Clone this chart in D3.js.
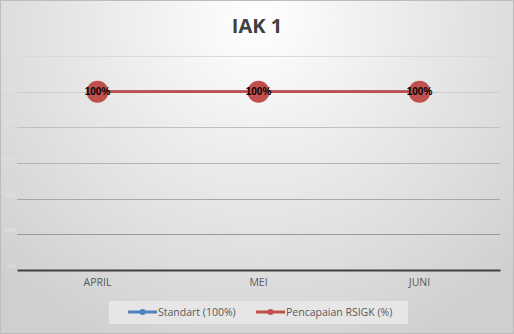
<!DOCTYPE html>
<html>
<head>
  <title>IAK 1</title>
  <script src="https://cdnjs.cloudflare.com/ajax/libs/d3/7.8.5/d3.min.js"></script>
  <style>
    html, body { margin: 0; padding: 0; background: #fff; }
    svg { display: block; }
  </style>
</head>
<body>
<svg width="514" height="334" class="svg-chart"></svg>
<script type="text/javascript">
  // data
  var months = ['APRIL', 'MEI', 'JUNI']
  var standart = [100, 100, 100]
  var pencapaian = [100, 100, 100]
  var yTicks = [0, 20, 40, 60, 80, 100, 120]
  var seriesNames = ['Standart (100%)', 'Pencapaian RSIGK (%)']
  var seriesColors = ['#4f81bd', '#c0504d']

  var svg = d3.select('.svg-chart')
  var width = +svg.attr('width')
  var height = +svg.attr('height')

  // background
  var defs = svg.append('defs')
  var grad = defs.append('radialGradient')
    .attr('id', 'bg')
    .attr('gradientUnits', 'userSpaceOnUse')
    .attr('cx', 257).attr('cy', 20).attr('r', 360)
  grad.append('stop').attr('offset', '0%').attr('stop-color', '#ffffff')
  grad.append('stop').attr('offset', '100%').attr('stop-color', '#cfcfcf')

  svg.append('rect')
    .attr('x', 0.5).attr('y', 0.5)
    .attr('width', width - 1).attr('height', height - 1)
    .attr('fill', 'url(#bg)')
    .attr('stroke', '#bcbcbc')

  var margin = {left: 17, right: 14, top: 56, bottom: 64}
  var x = d3.scaleBand()
    .domain(months)
    .range([margin.left, width - margin.right])
  var y = d3.scaleLinear()
    .domain([0, 120])
    .range([height - margin.bottom, margin.top])

  // gridlines
  var gridColor = d3.scaleLinear().domain([120, 20]).range(['#dadada', '#9a9a9a'])
  svg.append('g').selectAll('line')
    .data(yTicks.filter(function(d){ return d > 0 }))
    .enter()
    .append('line')
    .attr('x1', margin.left).attr('x2', width - margin.right)
    .attr('y1', function(d){ return Math.round(y(d)) + 0.5 })
    .attr('y2', function(d){ return Math.round(y(d)) + 0.5 })
    .attr('stroke', function(d){ return gridColor(d) })

  // faint value labels (almost invisible in the original)
  svg.append('g').selectAll('text')
    .data(yTicks)
    .enter()
    .append('text')
    .attr('x', 16)
    .attr('y', function(d){ return y(d) - 2 })
    .attr('text-anchor', 'end')
    .attr('font-family', 'Liberation Sans Narrow, sans-serif')
    .attr('font-size', 6)
    .attr('fill', '#e4e4e4')
    .text(function(d){ return d + '%' })

  // x axis
  var xAxis = svg.append('g')
    .attr('transform', 'translate(0,' + y(0) + ')')
    .call(d3.axisBottom(x).tickSize(0).tickPadding(9))
  xAxis.select('.domain').attr('stroke', '#404040').attr('stroke-width', 2)
  xAxis.selectAll('text')
    .attr('font-family', 'Open Sans, sans-serif')
    .attr('font-size', 10.5)
    .attr('fill', '#595959')

  // series
  var line = d3.line()
    .x(function(d, i){ return x(months[i]) + x.bandwidth() / 2 })
    .y(function(d){ return y(d) })

  ;[standart, pencapaian].forEach(function(values, s){
    var g = svg.append('g')
    g.append('path')
      .datum(values)
      .attr('d', line)
      .attr('fill', 'none')
      .attr('stroke', seriesColors[s])
      .attr('stroke-width', 2.75)
    g.selectAll('circle')
      .data(values)
      .enter()
      .append('circle')
      .attr('cx', function(d, i){ return x(months[i]) + x.bandwidth() / 2 })
      .attr('cy', function(d){ return y(d) })
      .attr('r', s === 1 ? 11 : 4)
      .attr('fill', seriesColors[s])
  })

  // data labels
  svg.append('g').selectAll('text')
    .data(pencapaian)
    .enter()
    .append('text')
    .attr('x', function(d, i){ return x(months[i]) + x.bandwidth() / 2 })
    .attr('y', function(d){ return y(d) + 3.5 })
    .attr('text-anchor', 'middle')
    .attr('font-family', 'Liberation Sans Narrow, Liberation Sans, sans-serif')
    .attr('font-size', 10)
    .attr('font-weight', 'bold')
    .attr('fill', '#000')
    .text(function(d){ return d + '%' })

  // title
  svg.append('text')
    .attr('x', width / 2)
    .attr('y', 33)
    .attr('text-anchor', 'middle')
    .attr('font-family', 'Open Sans, sans-serif')
    .attr('font-size', 20)
    .attr('font-weight', 'bold')
    .attr('fill', '#404040')
    .text('IAK 1')

  // legend
  var legend = svg.append('g')
  legend.append('rect')
    .attr('x', 109).attr('y', 301)
    .attr('width', 299).attr('height', 23)
    .attr('fill', '#e6e6e6')
  var legendX = [128, 256]
  seriesNames.forEach(function(name, s){
    var lg = legend.append('g').attr('transform', 'translate(' + legendX[s] + ',312)')
    lg.append('line')
      .attr('x1', 0).attr('x2', 29)
      .attr('stroke', seriesColors[s]).attr('stroke-width', 3)
    lg.append('circle')
      .attr('cx', 14.5).attr('r', 3)
      .attr('fill', seriesColors[s])
    lg.append('text')
      .attr('x', 30).attr('y', 4)
      .attr('font-family', 'Open Sans, sans-serif')
      .attr('font-size', 10.5)
      .attr('fill', '#595959')
      .text(name)
  })
</script>
</body>
</html>
